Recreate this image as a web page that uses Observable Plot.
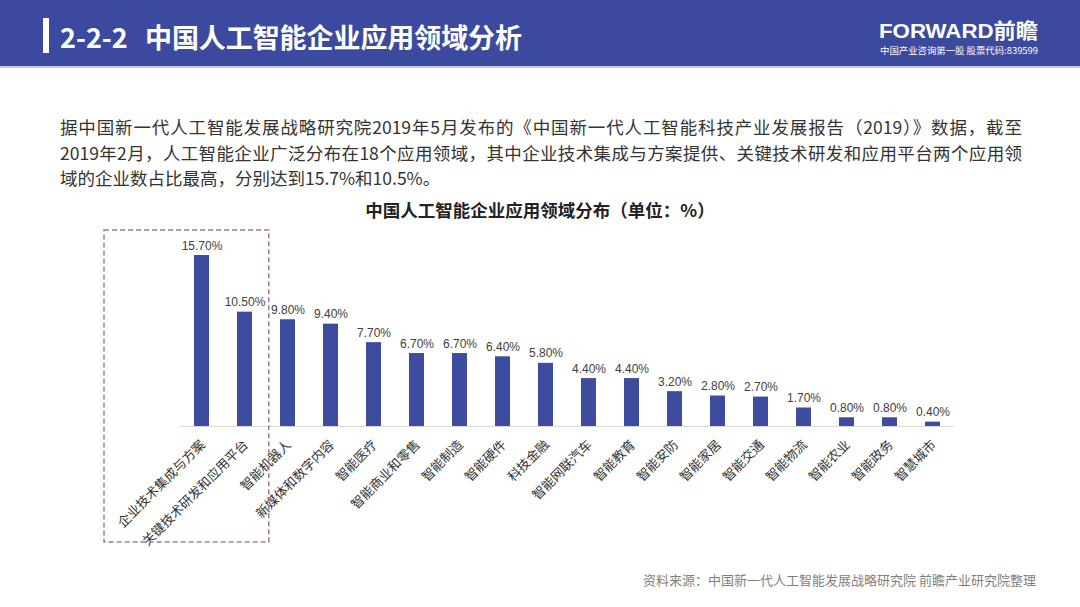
<!DOCTYPE html>
<html><head><meta charset="utf-8">
<script src="https://cdn.jsdelivr.net/npm/d3@7"></script>
<script src="https://cdn.jsdelivr.net/npm/@observablehq/plot@0.6"></script>
<style>
html,body{margin:0;padding:0;background:#fff;}
body{width:1080px;height:607px;position:relative;overflow:hidden;font-family:"Noto Sans CJK SC","Noto Sans",sans-serif;}
#head{position:absolute;left:0;top:0;}
#para{position:absolute;left:60px;top:114px;width:962px;font-size:17.5px;line-height:25.5px;color:#333;}
#para div{text-align:justify;text-align-last:justify;}
#para div.last{text-align-last:left;}
#ctitle{position:absolute;left:340px;top:197px;width:400px;text-align:center;font-size:17.5px;font-weight:bold;color:#222;line-height:26px;}
#chart{position:absolute;left:0;top:225px;}
#source{position:absolute;right:44px;top:570px;font-size:13px;color:#7f7f7f;line-height:20px;white-space:nowrap;}
</style>
</head><body>
<svg id="head" width="1080" height="70">
  <rect x="0" y="0" width="1080" height="66" fill="#3b4a9e"></rect>
  <rect x="0" y="66" width="1080" height="2" fill="#c6c9d8"></rect>
  <rect x="43" y="18" width="6" height="35" fill="#ffffff"></rect>
  <text x="60" y="48" fill="#fff" font-size="27" font-weight="bold" font-family="Noto Sans CJK SC">2-2-2</text>
  <text x="145" y="48" fill="#fff" font-size="27" font-weight="bold" font-family="Noto Sans CJK SC" textLength="377" lengthAdjust="spacing">中国人工智能企业应用领域分析</text>
  <text x="879" y="38" fill="#fff" font-size="21" font-weight="bold" font-family="Liberation Sans, Noto Sans CJK SC" textLength="159" lengthAdjust="spacingAndGlyphs">FORWARD前瞻</text>
  <text x="880" y="54" fill="#fff" font-size="9" font-family="Noto Sans CJK SC" textLength="158" lengthAdjust="spacingAndGlyphs">中国产业咨询第一股 股票代码:839599</text>
</svg>
<div id="para">
  <div>据中国新一代人工智能发展战略研究院2019年5月发布的《中国新一代人工智能科技产业发展报告（2019）》数据，截至</div>
  <div>2019年2月，人工智能企业广泛分布在18个应用领域，其中企业技术集成与方案提供、关键技术研发和应用平台两个应用领</div>
  <div class="last">域的企业数占比最高，分别达到15.7%和10.5%。</div>
</div>
<div id="ctitle">中国人工智能企业应用领域分布（单位：%）</div>
<div id="chart"></div>
<div id="source">资料来源：中国新一代人工智能发展战略研究院 前瞻产业研究院整理</div>
<script>
const categories = ["企业技术集成与方案","关键技术研发和应用平台","智能机器人","新媒体和数字内容","智能医疗","智能商业和零售","智能制造","智能硬件","科技金融","智能网联汽车","智能教育","智能安防","智能家居","智能交通","智能物流","智能农业","智能政务","智慧城市"];
const values = [15.7,10.5,9.8,9.4,7.7,6.7,6.7,6.4,5.8,4.4,4.4,3.2,2.8,2.7,1.7,0.8,0.8,0.4];
const valueLabels = ["15.70%","10.50%","9.80%","9.40%","7.70%","6.70%","6.70%","6.40%","5.80%","4.40%","4.40%","3.20%","2.80%","2.70%","1.70%","0.80%","0.80%","0.40%"];
const data = categories.map((c, i) => ({c, v: values[i], label: valueLabels[i]}));
const font = "Liberation Sans, Noto Sans CJK SC, sans-serif";
const chart = Plot.plot({
  width: 1080, height: 330,
  marginLeft: 180, marginRight: 126, marginTop: 30, marginBottom: 129,
  x: {domain: categories, paddingInner: 0.65, paddingOuter: 0.325, axis: null},
  y: {domain: [0, 15.7], axis: null},
  style: {fontFamily: font, background: "transparent", overflow: "visible"},
  marks: [
    Plot.ruleY([0], {stroke: "#d9d9d9", strokeWidth: 1}),
    Plot.barY(data, {x: "c", y: "v", fill: "#3e4c9f"}),
    Plot.text(data, {x: "c", y: "v", text: "label", dy: -6, lineAnchor: "bottom", fontSize: 12, fill: "#404040", fontFamily: font}),
    Plot.text(data, {x: "c", y: () => 0, text: "c", rotate: -45, textAnchor: "end", dx: 1, dy: 16, fontSize: 13, fill: "#333", fontFamily: "Noto Sans CJK SC"})
  ]
});
document.getElementById("chart").appendChild(chart);
// dashed annotation box around the two leading categories, positioned from the scales
const xs = chart.scale("x"), ys = chart.scale("y");
const x0 = xs.apply(categories[0]), x1 = xs.apply(categories[1]) + xs.bandwidth;
const gap = xs.step - xs.bandwidth;
const yTop = ys.apply(values[0]) - 25, yBase = ys.apply(0);
d3.select(chart).append("rect")
  .attr("x", x0 - 90).attr("y", yTop)
  .attr("width", (x1 + gap * 0.6) - (x0 - 90)).attr("height", (yBase + 116) - yTop)
  .attr("fill", "none").attr("stroke", "#a07c8c").attr("stroke-width", 1.5).attr("stroke-dasharray", "5,3");
</script>
</body></html>
